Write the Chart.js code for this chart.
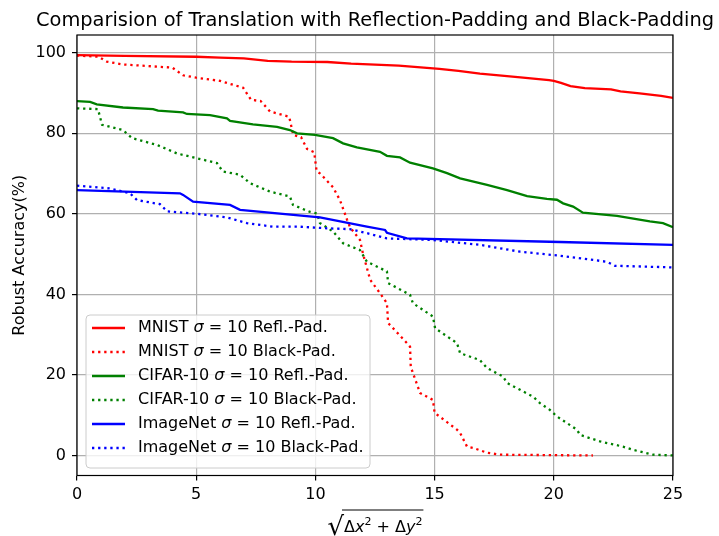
<!DOCTYPE html>
<html>
<head>
<meta charset="utf-8">
<script src="https://cdn.jsdelivr.net/npm/chart.js@4/dist/chart.umd.min.js"></script>
<style>
  html, body { margin: 0; padding: 0; background: #fff; }
  #wrap { width: 719px; height: 536px; }
</style>
</head>
<body>
<div id="wrap"><canvas id="chart" width="719" height="536"></canvas></div>
<script>
// ============================================================
// DATA
// ============================================================
const xTicks = [0, 5, 10, 15, 20, 25];
const yTicks = [0, 20, 40, 60, 80, 100];

const mnistReflX = [0, 2, 5, 6, 7, 8, 9, 10.5, 11.5, 13.5, 15.2, 16, 16.9, 17.7, 18.6, 19.8, 20, 20.3, 20.7, 21.3, 22.4, 22.8, 23.6, 24.5, 25];
const mnistReflY = [99.4, 99.2, 99.0, 98.8, 98.6, 98.0, 97.8, 97.7, 97.3, 96.8, 96.0, 95.5, 94.8, 94.4, 93.9, 93.2, 93.0, 92.5, 91.7, 91.2, 90.9, 90.4, 89.9, 89.3, 88.8];

const mnistBlackX = [0, 0.9, 1.25, 1.9, 4.0, 4.45, 5.0, 6.0, 6.97, 7.3, 7.7, 8.1, 8.9, 9.07, 9.4, 9.65, 9.95, 10.05, 10.2, 10.74, 11.03, 11.33, 11.45, 11.87, 12.0, 12.3, 12.71, 13.0, 13.05, 13.84, 13.97, 14.0, 14.39, 14.93, 15.0, 15.94, 16.07, 16.36, 16.6, 17.2, 17.74, 21.64];
const mnistBlackY = [99.3, 99.0, 97.8, 97.1, 96.3, 94.4, 93.8, 93.0, 91.3, 88.3, 88.0, 85.4, 84.1, 79.6, 79.0, 76.1, 75.3, 70.6, 70.0, 66.6, 63.4, 58.5, 56.7, 53.5, 50.0, 43.6, 40.3, 37.8, 32.9, 27.9, 27.0, 22.0, 15.5, 13.8, 10.6, 6.4, 5.6, 2.2, 1.9, 0.7, 0.2, 0.0];

const cifarReflX = [0, 0.55, 0.83, 1.93, 3.19, 3.4, 4.45, 4.61, 5.58, 6.29, 6.42, 7.38, 8.39, 8.93, 9.23, 9.98, 10.74, 11.16, 11.74, 12.71, 13.0, 13.55, 13.97, 14.93, 15.52, 16.07, 17.2, 18.04, 18.88, 19.71, 20.13, 20.39, 20.81, 21.22, 22.65, 24.03, 24.58, 25];
const cifarReflY = [88.0, 87.8, 87.2, 86.4, 86.0, 85.6, 85.2, 84.8, 84.5, 83.7, 83.1, 82.2, 81.6, 80.8, 80.0, 79.6, 78.8, 77.5, 76.5, 75.4, 74.4, 74.0, 72.7, 71.3, 70.1, 68.8, 67.2, 65.9, 64.4, 63.7, 63.5, 62.6, 61.8, 60.3, 59.5, 58.1, 57.7, 56.7];

const cifarBlackX = [0, 0.88, 1.05, 1.93, 2.31, 3.36, 4.19, 5.03, 5.87, 6.12, 6.84, 7.26, 8.1, 8.93, 9.06, 9.77, 10.07, 10.19, 10.74, 11.16, 11.87, 12.16, 13.0, 13.05, 13.97, 14.09, 14.93, 15.02, 15.94, 16.07, 16.9, 17.2, 17.87, 18.04, 19.13, 19.42, 19.84, 20.13, 20.97, 21.1, 21.94, 22.9, 23.32, 24.16, 25];
const cifarBlackY = [86.2, 86.0, 82.1, 80.8, 78.8, 77.1, 75.0, 73.8, 72.6, 70.5, 69.7, 67.6, 65.5, 64.3, 62.2, 60.5, 60.1, 57.7, 55.6, 52.7, 51.0, 48.1, 45.7, 42.8, 39.9, 37.8, 34.5, 31.6, 27.9, 25.4, 23.7, 21.7, 19.6, 18.0, 14.6, 13.0, 11.3, 9.7, 6.4, 5.1, 3.5, 2.2, 1.4, 0.2, 0.0];

const imagenetReflX = [0, 4.32, 4.45, 4.87, 6.42, 6.84, 10.19, 12.16, 12.92, 13.0, 13.84, 20.26, 25];
const imagenetReflY = [65.9, 65.1, 64.7, 63.0, 62.2, 61.0, 59.1, 56.8, 56.0, 55.3, 53.9, 53.0, 52.3];

const imagenetBlackX = [0, 1.38, 2.22, 2.52, 3.48, 3.78, 5.03, 6.29, 7.13, 8.22, 9.35, 10.49, 11.45, 12.16, 13.0, 14.93, 16.9, 18.58, 20.26, 22.23, 22.57, 25];
const imagenetBlackY = [67.0, 66.3, 65.1, 63.4, 62.4, 60.6, 60.0, 59.1, 57.7, 56.8, 56.8, 56.4, 56.2, 55.2, 53.9, 53.5, 52.3, 50.6, 49.6, 48.1, 47.1, 46.7];

const datasetNames = ['MNIST', 'MNIST', 'CIFAR-10', 'CIFAR-10', 'ImageNet', 'ImageNet'];
const paddingNames = ['Refl.-Pad.', 'Black-Pad.', 'Refl.-Pad.', 'Black-Pad.', 'Refl.-Pad.', 'Black-Pad.'];

// ============================================================
// STYLE
// ============================================================
const FONT = "'DejaVu Sans', sans-serif";
const LW = 2.3;
const DOTS = [2.3, 3.8];
const AREA = { left: 77, right: 673, top: 35, bottom: 475.5 };

const toPts = (xs, ys) => xs.map((x, i) => ({ x: x, y: ys[i] }));

function series(xs, ys, color, dotted, idx) {
    return {
        data: toPts(xs, ys),
        borderColor: color,
        backgroundColor: color,
        borderWidth: LW,
        borderDash: dotted ? DOTS : [],
        borderCapStyle: 'butt',
        pointRadius: 0,
        tension: 0,
        fill: false,
        order: 5 - idx,
        label: datasetNames[idx] + ' σ = 10 ' + paddingNames[idx]
    };
}

const datasets = [
    series(mnistReflX, mnistReflY, '#ff0000', false, 0),
    series(mnistBlackX, mnistBlackY, '#ff0000', true, 1),
    series(cifarReflX, cifarReflY, '#008000', false, 2),
    series(cifarBlackX, cifarBlackY, '#008000', true, 3),
    series(imagenetReflX, imagenetReflY, '#0000ff', false, 4),
    series(imagenetBlackX, imagenetBlackY, '#0000ff', true, 5)
];

// draws a run of [text, font, dy] pieces starting at x, returns end x
function drawRuns(ctx, runs, x, y, draw) {
    runs.forEach(r => {
        ctx.font = r[1];
        if (draw) ctx.fillText(r[0], x, y + (r[2] || 0));
        x += ctx.measureText(r[0]).width;
    });
    return x;
}

// ============================================================
// PLUGIN: title, frame, legend, x label
// ============================================================
const decor = {
    id: 'decor',
    afterDraw(chart) {
        const ctx = chart.ctx;
        const a = chart.chartArea;
        ctx.save();

        // title
        ctx.fillStyle = '#000';
        ctx.font = '19.4px ' + FONT;
        ctx.textAlign = 'center';
        ctx.textBaseline = 'alphabetic';
        ctx.fillText('Comparision of Translation with Reflection-Padding and Black-Padding', (a.left + a.right) / 2, 26);

        // frame
        ctx.strokeStyle = '#000';
        ctx.lineWidth = 1.2;
        ctx.setLineDash([]);
        ctx.strokeRect(a.left, a.top, a.right - a.left, a.bottom - a.top);

        // legend box
        const bx = 86, by = 315, bw = 284, bh = 153;
        ctx.beginPath();
        ctx.roundRect(bx, by, bw, bh, 4);
        ctx.fillStyle = 'rgba(255,255,255,0.8)';
        ctx.fill();
        ctx.strokeStyle = '#cccccc';
        ctx.lineWidth = 1;
        ctx.stroke();

        ctx.textAlign = 'left';
        ctx.textBaseline = 'middle';
        datasets.forEach((ds, i) => {
            const y = 328 + i * 24;
            ctx.beginPath();
            ctx.strokeStyle = ds.borderColor;
            ctx.lineWidth = LW;
            ctx.setLineDash(ds.borderDash);
            ctx.moveTo(92, y);
            ctx.lineTo(125, y);
            ctx.stroke();
            ctx.setLineDash([]);
            ctx.fillStyle = '#000';
            drawRuns(ctx, [
                [datasetNames[i] + ' ', '16px ' + FONT],
                ['σ', 'italic 16px ' + FONT],
                [' = 10 ' + paddingNames[i], '16px ' + FONT]
            ], 138, y, true);
        });

        // x axis label: sqrt(dx^2 + dy^2)
        const base = 532;
        const runs = [
            ['Δ', '16px ' + FONT],
            ['x', 'italic 16px ' + FONT],
            ['2', '11px ' + FONT, -7],
            [' + Δ', '16px ' + FONT],
            ['y', 'italic 16px ' + FONT],
            ['2', '11px ' + FONT, -7]
        ];
        ctx.textBaseline = 'alphabetic';
        const startX = 344;
        ctx.font = '26px ' + FONT;
        ctx.textAlign = 'right';
        ctx.fillText('√', startX, base + 3);
        ctx.textAlign = 'left';
        const endX = drawRuns(ctx, runs, startX, base, true);
        ctx.beginPath();
        ctx.strokeStyle = '#000';
        ctx.lineWidth = 1.2;
        ctx.moveTo(startX - 2, 510);
        ctx.lineTo(endX + 1, 510);
        ctx.stroke();

        ctx.restore();
    }
};

// ============================================================
// CHART
// ============================================================
const tickFont = { family: FONT, size: 16 };

new Chart(document.getElementById('chart').getContext('2d'), {
    type: 'line',
    data: { datasets: datasets },
    options: {
        responsive: false,
        devicePixelRatio: 1,
        animation: false,
        layout: { padding: { top: AREA.top, right: 719 - AREA.right, left: 0, bottom: 0 } },
        plugins: { legend: { display: false }, title: { display: false }, tooltip: { enabled: false } },
        scales: {
            x: {
                type: 'linear',
                min: 0,
                max: 25,
                afterBuildTicks: s => { s.ticks = xTicks.map(v => ({ value: v })); },
                afterFit: s => { s.height = 536 - AREA.bottom; },
                grid: { color: '#b0b0b0', lineWidth: 1.2, tickColor: '#000', tickLength: 5 },
                border: { display: false },
                ticks: { color: '#000', font: tickFont, padding: 5, maxRotation: 0 }
            },
            y: {
                type: 'linear',
                min: -4.97,
                max: 104.4,
                afterBuildTicks: s => { s.ticks = yTicks.map(v => ({ value: v })); },
                afterFit: s => { s.width = AREA.left; },
                grid: { color: '#b0b0b0', lineWidth: 1.2, tickColor: '#000', tickLength: 5 },
                border: { display: false },
                ticks: { color: '#000', font: tickFont, padding: 6 },
                title: { display: true, text: 'Robust Accuracy(%)', color: '#000', font: tickFont, padding: { top: 10, bottom: 0 } }
            }
        }
    },
    plugins: [decor]
});
</script>
</body>
</html>
